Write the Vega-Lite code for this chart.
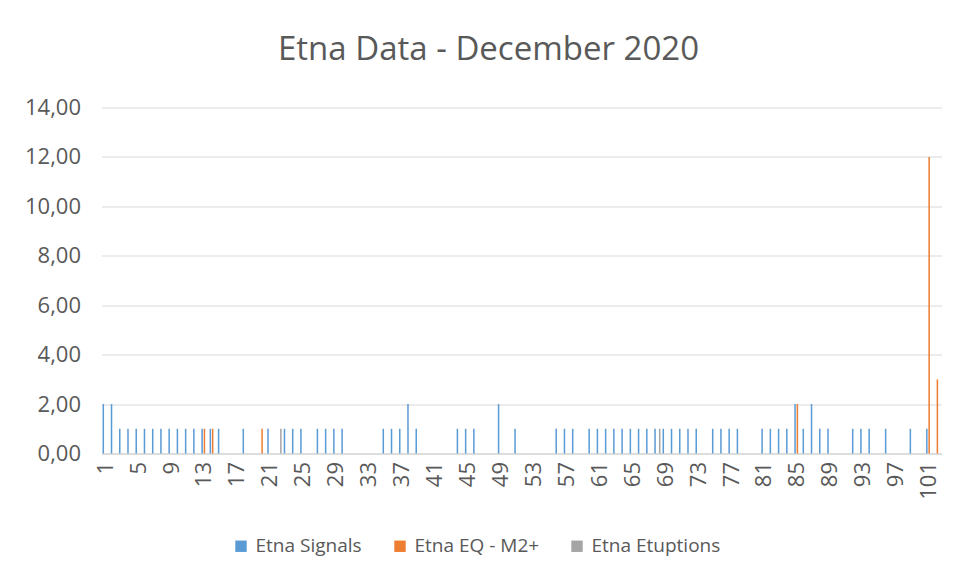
{
  "$schema": "https://vega.github.io/schema/vega-lite/v6.json",
  "width": 840,
  "height": 346,
  "autosize": {"type": "none"},
  "padding": {"left": 101.5, "top": 107.5, "right": 14.5, "bottom": 127.5},
  "background": "#ffffff",
  "title": {
    "text": "Etna Data - December 2020",
    "font": "Open Sans",
    "fontSize": 33,
    "fontWeight": "normal",
    "color": "#595959",
    "anchor": "middle",
    "baseline": "alphabetic",
    "offset": 4,
    "dx": -33
  },
  "data": {
    "values": [
      {"day": 1, "series": "Etna Signals", "value": 2},
      {"day": 2, "series": "Etna Signals", "value": 2},
      {"day": 3, "series": "Etna Signals", "value": 1},
      {"day": 4, "series": "Etna Signals", "value": 1},
      {"day": 5, "series": "Etna Signals", "value": 1},
      {"day": 6, "series": "Etna Signals", "value": 1},
      {"day": 7, "series": "Etna Signals", "value": 1},
      {"day": 8, "series": "Etna Signals", "value": 1},
      {"day": 9, "series": "Etna Signals", "value": 1},
      {"day": 10, "series": "Etna Signals", "value": 1},
      {"day": 11, "series": "Etna Signals", "value": 1},
      {"day": 12, "series": "Etna Signals", "value": 1},
      {"day": 13, "series": "Etna Signals", "value": 1},
      {"day": 13, "series": "Etna EQ - M2+", "value": 1},
      {"day": 14, "series": "Etna Signals", "value": 1},
      {"day": 14, "series": "Etna EQ - M2+", "value": 1},
      {"day": 15, "series": "Etna Signals", "value": 1},
      {"day": 18, "series": "Etna Signals", "value": 1},
      {"day": 20, "series": "Etna EQ - M2+", "value": 1},
      {"day": 21, "series": "Etna Signals", "value": 1},
      {"day": 22, "series": "Etna Etuptions", "value": 1},
      {"day": 23, "series": "Etna Signals", "value": 1},
      {"day": 24, "series": "Etna Signals", "value": 1},
      {"day": 25, "series": "Etna Signals", "value": 1},
      {"day": 27, "series": "Etna Signals", "value": 1},
      {"day": 28, "series": "Etna Signals", "value": 1},
      {"day": 29, "series": "Etna Signals", "value": 1},
      {"day": 30, "series": "Etna Signals", "value": 1},
      {"day": 35, "series": "Etna Signals", "value": 1},
      {"day": 36, "series": "Etna Signals", "value": 1},
      {"day": 37, "series": "Etna Signals", "value": 1},
      {"day": 38, "series": "Etna Signals", "value": 2},
      {"day": 39, "series": "Etna Signals", "value": 1},
      {"day": 44, "series": "Etna Signals", "value": 1},
      {"day": 45, "series": "Etna Signals", "value": 1},
      {"day": 46, "series": "Etna Signals", "value": 1},
      {"day": 49, "series": "Etna Signals", "value": 2},
      {"day": 51, "series": "Etna Signals", "value": 1},
      {"day": 56, "series": "Etna Signals", "value": 1},
      {"day": 57, "series": "Etna Signals", "value": 1},
      {"day": 58, "series": "Etna Signals", "value": 1},
      {"day": 60, "series": "Etna Signals", "value": 1},
      {"day": 61, "series": "Etna Signals", "value": 1},
      {"day": 62, "series": "Etna Signals", "value": 1},
      {"day": 63, "series": "Etna Signals", "value": 1},
      {"day": 64, "series": "Etna Signals", "value": 1},
      {"day": 65, "series": "Etna Signals", "value": 1},
      {"day": 66, "series": "Etna Signals", "value": 1},
      {"day": 67, "series": "Etna Signals", "value": 1},
      {"day": 68, "series": "Etna Signals", "value": 1},
      {"day": 68, "series": "Etna Etuptions", "value": 1},
      {"day": 69, "series": "Etna Signals", "value": 1},
      {"day": 70, "series": "Etna Signals", "value": 1},
      {"day": 71, "series": "Etna Signals", "value": 1},
      {"day": 72, "series": "Etna Signals", "value": 1},
      {"day": 73, "series": "Etna Signals", "value": 1},
      {"day": 75, "series": "Etna Signals", "value": 1},
      {"day": 76, "series": "Etna Signals", "value": 1},
      {"day": 77, "series": "Etna Signals", "value": 1},
      {"day": 78, "series": "Etna Signals", "value": 1},
      {"day": 81, "series": "Etna Signals", "value": 1},
      {"day": 82, "series": "Etna Signals", "value": 1},
      {"day": 83, "series": "Etna Signals", "value": 1},
      {"day": 84, "series": "Etna Signals", "value": 1},
      {"day": 85, "series": "Etna Signals", "value": 2},
      {"day": 85, "series": "Etna EQ - M2+", "value": 2},
      {"day": 86, "series": "Etna Signals", "value": 1},
      {"day": 87, "series": "Etna Signals", "value": 2},
      {"day": 88, "series": "Etna Signals", "value": 1},
      {"day": 89, "series": "Etna Signals", "value": 1},
      {"day": 92, "series": "Etna Signals", "value": 1},
      {"day": 93, "series": "Etna Signals", "value": 1},
      {"day": 94, "series": "Etna Signals", "value": 1},
      {"day": 96, "series": "Etna Signals", "value": 1},
      {"day": 99, "series": "Etna Signals", "value": 1},
      {"day": 101, "series": "Etna Signals", "value": 1},
      {"day": 101, "series": "Etna EQ - M2+", "value": 12},
      {"day": 102, "series": "Etna EQ - M2+", "value": 3}
    ]
  },
  "mark": {"type": "bar"},
  "encoding": {
    "x": {
      "field": "day",
      "type": "ordinal",
      "scale": {
        "domain": [1,2,3,4,5,6,7,8,9,10,11,12,13,14,15,16,17,18,19,20,21,22,23,24,25,26,27,28,29,30,31,32,33,34,35,36,37,38,39,40,41,42,43,44,45,46,47,48,49,50,51,52,53,54,55,56,57,58,59,60,61,62,63,64,65,66,67,68,69,70,71,72,73,74,75,76,77,78,79,80,81,82,83,84,85,86,87,88,89,90,91,92,93,94,95,96,97,98,99,100,101,102],
        "paddingInner": 0.25,
        "paddingOuter": 0.125
      },
      "axis": {
        "title": null,
        "values": [1,5,9,13,17,21,25,29,33,37,41,45,49,53,57,61,65,69,73,77,81,85,89,93,97,101],
        "labelAngle": -90,
        "labelFont": "Open Sans",
        "labelFontSize": 22,
        "labelColor": "#595959",
        "labelPadding": 8,
        "ticks": false,
        "domainColor": "#D9D9D9",
        "domainWidth": 1.5,
        "grid": false
      }
    },
    "xOffset": {
      "field": "series",
      "type": "nominal",
      "scale": {
        "domain": ["Etna Signals", "Etna EQ - M2+", "Etna Etuptions"],
        "paddingInner": 0.35,
        "paddingOuter": 0
      }
    },
    "y": {
      "field": "value",
      "type": "quantitative",
      "scale": {"domain": [0, 14]},
      "axis": {
        "title": null,
        "values": [0, 2, 4, 6, 8, 10, 12, 14],
        "labelExpr": "replace(format(datum.value, '.2f'), '.', ',')",
        "labelFont": "Open Sans",
        "labelFontSize": 22,
        "labelColor": "#595959",
        "labelPadding": 21,
        "ticks": false,
        "domain": false,
        "grid": true,
        "gridColor": "#D9D9D9",
        "gridWidth": 1.2
      }
    },
    "color": {
      "field": "series",
      "type": "nominal",
      "scale": {
        "domain": ["Etna Signals", "Etna EQ - M2+", "Etna Etuptions"],
        "range": ["#5B9BD5", "#ED7D31", "#A5A5A5"]
      },
      "legend": {
        "title": null,
        "orient": "none",
        "legendX": 130,
        "legendY": 429,
        "direction": "horizontal",
        "symbolType": "square",
        "symbolSize": 130,
        "symbolStrokeWidth": 0,
        "labelFont": "Open Sans",
        "labelFontSize": 19,
        "labelColor": "#595959",
        "labelOffset": 5,
        "columnPadding": 28,
        "padding": 0
      }
    }
  },
  "config": {
    "view": {"stroke": null}
  }
}
